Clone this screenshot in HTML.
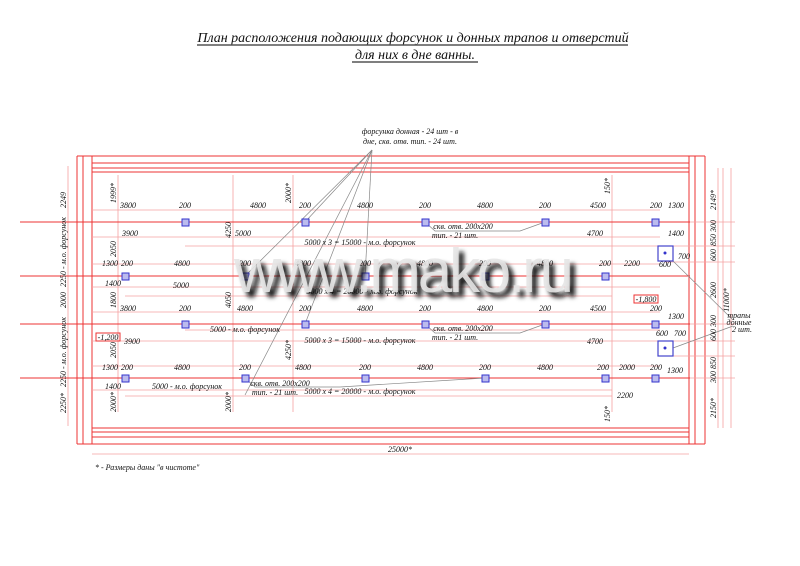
<!DOCTYPE html>
<html><head><meta charset="utf-8"><style>
html,body{margin:0;padding:0;background:#fff;width:800px;height:566px;overflow:hidden}
svg{display:block}
.t{font-family:"Liberation Serif",serif;font-style:italic;font-size:8px;fill:#111}
.r{stroke:#e33;stroke-width:1;fill:none}
.rl{stroke:#f5a0a0;stroke-width:0.8;fill:none}
.g{stroke:#888;stroke-width:0.7;fill:none}
</style></head><body>
<svg width="800" height="566" viewBox="0 0 800 566" xmlns="http://www.w3.org/2000/svg">
<defs><filter id="bl" x="-10%" y="-30%" width="120%" height="160%"><feGaussianBlur stdDeviation="2.5"/></filter></defs>
<g font-family="Liberation Serif,serif" font-style="italic" font-size="14" fill="#111" text-anchor="middle">
<text x="413" y="42">План расположения подающих форсунок и донных трапов и отверстий</text>
<text x="415" y="59">для них в дне ванны.</text>
</g>
<line x1="197" y1="45" x2="628" y2="45" stroke="#555" stroke-width="1.5"/>
<line x1="352" y1="62" x2="478" y2="62" stroke="#555" stroke-width="1.5"/>

<g class="r">
<line x1="77" y1="156" x2="705" y2="156"/>
<line x1="77" y1="156" x2="77" y2="444"/>
<line x1="705" y1="156" x2="705" y2="444"/>
<line x1="77" y1="444" x2="705" y2="444"/>
<line x1="83" y1="156" x2="83" y2="444"/>
<line x1="92" y1="156" x2="92" y2="444"/>
<line x1="689" y1="156" x2="689" y2="444"/>
<line x1="695" y1="156" x2="695" y2="444"/>
<line x1="92" y1="163" x2="689" y2="163"/>
<line x1="92" y1="168" x2="689" y2="168"/>
<line x1="92" y1="172" x2="689" y2="172"/>
<line x1="92" y1="428" x2="689" y2="428"/>
<line x1="92" y1="432" x2="689" y2="432"/>
<line x1="92" y1="437" x2="689" y2="437"/>
</g>
<g class="rl">
<line x1="68" y1="166" x2="68" y2="426"/>
<line x1="118" y1="175" x2="118" y2="412"/>
<line x1="233" y1="175" x2="233" y2="412"/>
<line x1="293" y1="175" x2="293" y2="412"/>
<line x1="612" y1="175" x2="612" y2="412"/>
<line x1="718" y1="168" x2="718" y2="428"/>
<line x1="723" y1="168" x2="723" y2="428"/>
<line x1="731" y1="168" x2="731" y2="428"/>
<line x1="92" y1="454" x2="689" y2="454"/>
<line x1="92" y1="210" x2="660" y2="210"/>
<line x1="92" y1="237" x2="660" y2="237"/>
<line x1="185" y1="246" x2="660" y2="246"/>
<line x1="92" y1="264" x2="660" y2="264"/>
<line x1="92" y1="287" x2="660" y2="287"/>
<line x1="125" y1="296" x2="612" y2="296"/>
<line x1="92" y1="312" x2="660" y2="312"/>
<line x1="92" y1="341" x2="660" y2="341"/>
<line x1="185" y1="330" x2="660" y2="330"/>
<line x1="92" y1="366" x2="660" y2="366"/>
<line x1="92" y1="390" x2="612" y2="390"/>
<line x1="125" y1="396" x2="612" y2="396"/>
<line x1="665" y1="246" x2="735" y2="246"/>
<line x1="665" y1="262" x2="735" y2="262"/>
<line x1="665" y1="341" x2="735" y2="341"/>
<line x1="665" y1="356" x2="735" y2="356"/>
<line x1="665" y1="378" x2="735" y2="378"/>
<line x1="665" y1="324" x2="735" y2="324"/>
<line x1="665" y1="222" x2="735" y2="222"/>
</g>
<g class="r" stroke-width="1">
<line x1="20" y1="222" x2="690" y2="222"/>
<line x1="20" y1="276" x2="690" y2="276"/>
<line x1="20" y1="324" x2="690" y2="324"/>
<line x1="20" y1="378" x2="690" y2="378"/>
</g>
<rect x="96" y="333" width="24" height="8" fill="none" stroke="#e33"/>
<text class="t" x="108" y="340" text-anchor="middle">-1,200</text>
<rect x="634" y="295" width="24" height="8" fill="none" stroke="#e33"/>
<text class="t" x="646" y="302" text-anchor="middle">-1,800</text>

<g class="g">
<line x1="372" y1="150" x2="305" y2="222"/>
<line x1="372" y1="150" x2="245" y2="276"/>
<line x1="372" y1="150" x2="365" y2="276"/>
<line x1="372" y1="150" x2="305" y2="324"/>
<line x1="372" y1="150" x2="245" y2="395"/>
<polyline points="425,222 435,231 520,231 545,222"/>
<polyline points="425,324 435,333 520,333 545,324"/>
<polyline points="245,378 255,387 340,387 485,378"/>
<line x1="673" y1="261" x2="733" y2="320"/>
<line x1="673" y1="348" x2="733" y2="326"/>
</g>

<g fill="#bbe" stroke="#33c" stroke-width="1">
<rect x="182" y="219" width="7" height="7"/><rect x="302" y="219" width="7" height="7"/><rect x="422" y="219" width="7" height="7"/><rect x="542" y="219" width="7" height="7"/><rect x="652" y="219" width="7" height="7"/>
<rect x="122" y="273" width="7" height="7"/><rect x="242" y="273" width="7" height="7"/><rect x="362" y="273" width="7" height="7"/><rect x="482" y="273" width="7" height="7"/><rect x="602" y="273" width="7" height="7"/>
<rect x="182" y="321" width="7" height="7"/><rect x="302" y="321" width="7" height="7"/><rect x="422" y="321" width="7" height="7"/><rect x="542" y="321" width="7" height="7"/><rect x="652" y="321" width="7" height="7"/>
<rect x="122" y="375" width="7" height="7"/><rect x="242" y="375" width="7" height="7"/><rect x="362" y="375" width="7" height="7"/><rect x="482" y="375" width="7" height="7"/><rect x="602" y="375" width="7" height="7"/><rect x="652" y="375" width="7" height="7"/>
</g>
<rect x="658" y="246" width="15" height="15" fill="none" stroke="#44c" stroke-width="1.2"/>
<rect x="658" y="341" width="15" height="15" fill="none" stroke="#44c" stroke-width="1.2"/>
<circle cx="665" cy="253" r="1.5" fill="#33c"/><circle cx="665" cy="348" r="1.5" fill="#33c"/>

<g class="t" text-anchor="middle">
<text x="410" y="134">форсунка донная - 24 шт - в</text>
<text x="410" y="144">дне,  скв. отв. тип. - 24 шт.</text>
<text x="128" y="208">3800</text><text x="185" y="208">200</text><text x="258" y="208">4800</text><text x="305" y="208">200</text><text x="365" y="208">4800</text><text x="425" y="208">200</text><text x="485" y="208">4800</text><text x="545" y="208">200</text><text x="598" y="208">4500</text><text x="656" y="208">200</text><text x="676" y="208">1300</text>
<text x="130" y="236">3900</text><text x="243" y="236">5000</text><text x="595" y="236">4700</text><text x="676" y="236">1400</text>
<text x="360" y="245">5000 x 3 = 15000 - м.о. форсунок</text>
<text x="463" y="229">скв. отв. 200x200</text><text x="455" y="238">тип. - 21 шт.</text>
<text x="110" y="266">1300</text><text x="127" y="266">200</text><text x="182" y="266">4800</text><text x="245" y="266">200</text><text x="303" y="266">4800</text><text x="365" y="266">200</text><text x="425" y="266">4800</text><text x="485" y="266">200</text><text x="545" y="266">4800</text><text x="605" y="266">200</text><text x="632" y="266">2200</text><text x="684" y="259">700</text><text x="665" y="267">600</text>
<text x="113" y="286">1400</text><text x="181" y="288">5000</text>
<text x="362" y="294">5000 x 4 = 20000 - м.о. форсунок</text>
<text x="128" y="311">3800</text><text x="185" y="311">200</text><text x="245" y="311">4800</text><text x="305" y="311">200</text><text x="365" y="311">4800</text><text x="425" y="311">200</text><text x="485" y="311">4800</text><text x="545" y="311">200</text><text x="598" y="311">4500</text><text x="656" y="311">200</text><text x="676" y="319">1300</text>
<text x="245" y="332">5000 - м.о. форсунок</text>
<text x="360" y="343">5000 x 3 = 15000 - м.о. форсунок</text>
<text x="463" y="331">скв. отв. 200x200</text><text x="455" y="340">тип. - 21 шт.</text>
<text x="132" y="344">3900</text><text x="595" y="344">4700</text><text x="662" y="336">600</text><text x="680" y="336">700</text>
<text x="110" y="370">1300</text><text x="127" y="370">200</text><text x="182" y="370">4800</text><text x="245" y="370">200</text><text x="303" y="370">4800</text><text x="365" y="370">200</text><text x="425" y="370">4800</text><text x="485" y="370">200</text><text x="545" y="370">4800</text><text x="603" y="370">200</text><text x="627" y="370">2000</text><text x="656" y="370">200</text><text x="675" y="373">1300</text>
<text x="113" y="389">1400</text><text x="187" y="389">5000 - м.о. форсунок</text>
<text x="280" y="386">скв. отв. 200x200</text><text x="275" y="395">тип. - 21 шт.</text>
<text x="360" y="394">5000 x 4 = 20000 - м.о. форсунок</text>
<text x="625" y="398">2200</text>
<text x="400" y="452">25000*</text>
<text x="739" y="318">трапы</text><text x="739" y="325">донные</text><text x="742" y="332">2 шт.</text>
</g>
<text class="t" x="95" y="470" font-size="7">*  -  Размеры даны "в чистоте"</text>
<g class="t" text-anchor="middle">
<text transform="translate(66,200) rotate(-90)">2249</text>
<text transform="translate(66,252) rotate(-90)">2250 - м.о. форсунок</text>
<text transform="translate(66,300) rotate(-90)">2000</text>
<text transform="translate(66,352) rotate(-90)">2250 - м.о. форсунок</text>
<text transform="translate(66,403) rotate(-90)">2250*</text>
<text transform="translate(116,193) rotate(-90)">1999*</text>
<text transform="translate(116,249) rotate(-90)">2050</text>
<text transform="translate(116,300) rotate(-90)">1800</text>
<text transform="translate(116,350) rotate(-90)">2050</text>
<text transform="translate(116,402) rotate(-90)">2000*</text>
<text transform="translate(231,230) rotate(-90)">4250</text>
<text transform="translate(231,300) rotate(-90)">4050</text>
<text transform="translate(231,402) rotate(-90)">2000*</text>
<text transform="translate(291,193) rotate(-90)">2000*</text>
<text transform="translate(291,350) rotate(-90)">4250*</text>
<text transform="translate(610,186) rotate(-90)">150*</text>
<text transform="translate(610,414) rotate(-90)">150*</text>
<text transform="translate(716,200) rotate(-90)">2149*</text>
<text transform="translate(716,233) rotate(-90)">850 300</text>
<text transform="translate(716,255) rotate(-90)">600</text>
<text transform="translate(716,290) rotate(-90)">2600</text>
<text transform="translate(716,328) rotate(-90)">600 300</text>
<text transform="translate(716,370) rotate(-90)">300 850</text>
<text transform="translate(716,408) rotate(-90)">2150*</text>
<text transform="translate(729,300) rotate(-90)">11000*</text>
</g>
<g font-family="Liberation Sans,sans-serif" font-size="62" text-anchor="middle">
<text x="409" y="297" fill="#111" filter="url(#bl)" textLength="340">www.mako.ru</text>
<text x="404" y="292" fill="#e6e6e6" textLength="340" opacity="0.9">www.mako.ru</text>
</g>
</svg>
</body></html>
